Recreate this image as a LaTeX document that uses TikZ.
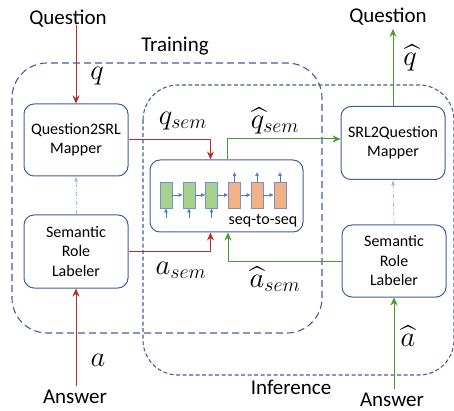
\documentclass[tikz,border=0pt]{standalone}
\usepackage{amsmath}
\usepackage{graphicx}
\usepackage{fontspec}
\setmainfont{Carlito}
\usetikzlibrary{arrows.meta}
\definecolor{bblue}{HTML}{3F5E9E}
\definecolor{dred}{HTML}{C0282A}
\definecolor{dgreen}{HTML}{4A9A2E}
\definecolor{lblue}{HTML}{9DB5DF}
\definecolor{ablue}{HTML}{4A78C8}
\definecolor{cgreen}{HTML}{A9D18E}
\definecolor{corange}{HTML}{F4B183}
\newcommand{\bigmth}[1]{\scalebox{1.38}{\huge$#1$}}
\tikzset{
  mbox/.style={draw=bblue, fill=white, line width=1pt, rounded corners=10pt, align=center,
    font=\fontsize{16}{19.5}\selectfont, minimum width=104pt, minimum height=72pt, inner sep=0pt},
  lbl/.style={font=\fontsize{21}{25}\selectfont, inner sep=0pt},
  mth/.style={inner sep=0pt},
  redarr/.style={draw=dred, line width=1pt, -{Stealth[length=8pt,width=7pt]}},
  grnarr/.style={draw=dgreen, line width=1pt, -{Stealth[length=8pt,width=7pt]}},
  dasharr/.style={draw=lblue, line width=0.8pt, dash pattern=on 4pt off 2pt on 1pt off 2pt, -{Latex[length=5pt,width=4pt]}},
  cellg/.style={draw=ablue!80, fill=cgreen, line width=0.6pt, minimum width=12pt, minimum height=26pt, inner sep=0pt},
  cello/.style={draw=ablue!80, fill=corange, line width=0.6pt, minimum width=12pt, minimum height=26pt, inner sep=0pt},
  tinyarr/.style={draw=ablue, line width=0.6pt, -{Latex[length=4pt,width=4pt]}},
  region/.style={draw=bblue, line width=1.1pt, rounded corners=35pt}
}
\begin{document}
\begin{tikzpicture}[x=1pt,y=-1pt]
\useasboundingbox (0,0) rectangle (454,411);
% regions
\draw[region, dash pattern=on 7pt off 4pt] (12,63) rectangle (322,333);
\draw[region, dash pattern=on 4pt off 2.5pt] (143,85) rectangle (454,375);
\node[lbl] (train) at (175,46) {Training};
\node[lbl] (infer) at (291,387) {Inference};
% outer labels
\node[lbl] (qin) at (68,19) {Question};
\node[lbl] (qout) at (388,17) {Question};
\node[lbl] (ain) at (75,397) {Answer};
\node[lbl] (aout) at (392,400) {Answer};
% boxes
\node[mbox] (q2s) at (76,140) {Question2SRL\\Mapper};
\node[mbox, minimum height=73pt] (srll) at (76,251.5) {Semantic\\Role\\Labeler};
\node[mbox, minimum height=73pt] (s2q) at (393,143) {SRL2Question\\Mapper};
\node[mbox] (srlr) at (394,261) {Semantic\\Role\\Labeler};
\node[mbox, minimum width=153pt, minimum height=72pt] (seq) at (226.5,196) {};
\node[font=\fontsize{16}{19}\selectfont, inner sep=0pt] (seqtxt) at (263,221) {seq-to-seq};
% cells
\node[cellg] (c1) at (166,195) {};
\node[cellg] (c2) at (189,195) {};
\node[cellg] (c3) at (211.5,195) {};
\node[cello] (c4) at (234.5,195) {};
\node[cello] (c5) at (257,195) {};
\node[cello] (c6) at (280,195) {};
\draw[tinyarr] (c1.east) -- (c2.west);
\draw[tinyarr] (c2.east) -- (c3.west);
\draw[tinyarr] (c3.east) -- (c4.west);
\draw[tinyarr] (c4.east) -- (c5.west);
\draw[tinyarr] (c5.east) -- (c6.west);
\coordinate (b1) at (166,218);
\coordinate (b2) at (189,218);
\coordinate (b3) at (211.5,218);
\coordinate (t4) at (234.5,172);
\coordinate (t5) at (257,172);
\coordinate (t6) at (280,172);
\draw[tinyarr] (b1) -- (c1.south);
\draw[tinyarr] (b2) -- (c2.south);
\draw[tinyarr] (b3) -- (c3.south);
\draw[tinyarr] (c4.north) -- (t4);
\draw[tinyarr] (c5.north) -- (t5);
\draw[tinyarr] (c6.north) -- (t6);
% connectors
\draw[redarr] (q2s.north |- qin.south) ++(0,-3) -- (q2s.north);
\draw[redarr] (srll.south |- ain.north) ++(0,-4) -- (srll.south);
\draw[redarr] (q2s.east) -| ([xshift=-16pt]seq.north);
\draw[redarr] (srll.east) -| ([xshift=-16pt]seq.south);
\draw[dasharr] (srll.north) -- (q2s.south);
\draw[dasharr] (srlr.north) -- (s2q.south);
\draw[grnarr] ([xshift=1pt]seq.north) |- ([yshift=4pt]s2q.west);
\draw[grnarr] (srlr.west) -| ([xshift=1.5pt]seq.south);
\draw[grnarr] (s2q.north) -- ([yshift=-3pt]s2q.north |- qout.south);
\draw[grnarr] ([yshift=4pt]srlr.south |- aout.north) -- (srlr.south);
% math labels
\node[mth] (lq) at (97,76) {\bigmth{q}};
\node[mth] (lqsem) at (183,121) {\bigmth{q_{sem}}};
\node[mth] (lqhsem) at (275,121) {\bigmth{\widehat{q}_{sem}}};
\node[mth] (lqh) at (410,58) {\bigmth{\widehat{q}}};
\node[mth] (lasem) at (181,270) {\bigmth{a_{sem}}};
\node[mth] (lahsem) at (275,279) {\bigmth{\widehat{a}_{sem}}};
\node[mth] (lah) at (408,336) {\bigmth{\widehat{a}}};
\node[mth] (la) at (98,360) {\bigmth{a}};
\end{tikzpicture}
\end{document}
